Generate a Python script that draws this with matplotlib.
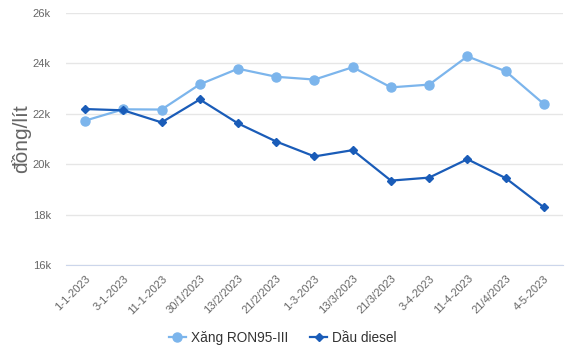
import matplotlib.pyplot as plt
import numpy as np

plt.rcParams['font.family'] = ['Liberation Sans', 'DejaVu Sans']

# ngày điều chỉnh giá
dates = ['1-1-2023', '3-1-2023', '11-1-2023', '30/1/2023', '13/2/2023', '21/2/2023',
         '1-3-2023', '13/3/2023', '21/3/2023', '3-4-2023', '11-4-2023', '21/4/2023', '4-5-2023']
ron95 = [21730, 22180, 22170, 23170, 23790, 23470, 23360, 23850, 23050, 23160, 24280, 23690, 22390]
diesel = [22190, 22140, 21660, 22570, 21620, 20900, 20310, 20560, 19350, 19470, 20200, 19450, 18290]
yticks = [16000, 18000, 20000, 22000, 24000, 26000]
ytick_labels = ['16k', '18k', '20k', '22k', '24k', '26k']

fig = plt.figure(figsize=(5.77, 3.52), dpi=100)
ax = fig.add_axes([0.1144, 0.247, 0.8613, 0.716])

x = np.arange(len(dates))
ax.plot(x, ron95, color='#7cb5ec', lw=1.6, marker='o', ms=6.5, label='Xăng RON95-III', zorder=3)
ax.plot(x, diesel, color='#1a5cb8', lw=1.6, marker='D', ms=4.5, label='Dầu diesel', zorder=4)

ax.set_xlim(-0.5, len(dates) - 0.5)
ax.set_ylim(16000, 26000)
ax.set_yticks(yticks)
ax.set_yticklabels(ytick_labels, fontsize=8, color='#666666')
ax.set_xticks(x)
ax.set_xticklabels(dates, rotation=45, ha='right', va='top', rotation_mode='anchor',
                   fontsize=8, color='#666666')
ax.tick_params(axis='both', length=0)
ax.tick_params(axis='y', pad=11)
ax.tick_params(axis='x', pad=6)
ax.grid(axis='y', color='#e6e6e6', lw=1)
ax.set_axisbelow(True)
for s in ['top', 'right', 'left']:
    ax.spines[s].set_visible(False)
ax.spines['bottom'].set_color('#ccd6eb')
ax.set_ylabel('đồng/lít', fontsize=15, color='#666666', labelpad=1)

fig.legend(loc='center', bbox_to_anchor=(0.49, 0.04), ncol=2, frameon=False,
           fontsize=9.8, labelcolor='#333333', handlelength=1.25, columnspacing=1.6,
           handletextpad=0.37)

fig.savefig('out.png', dpi=100)
